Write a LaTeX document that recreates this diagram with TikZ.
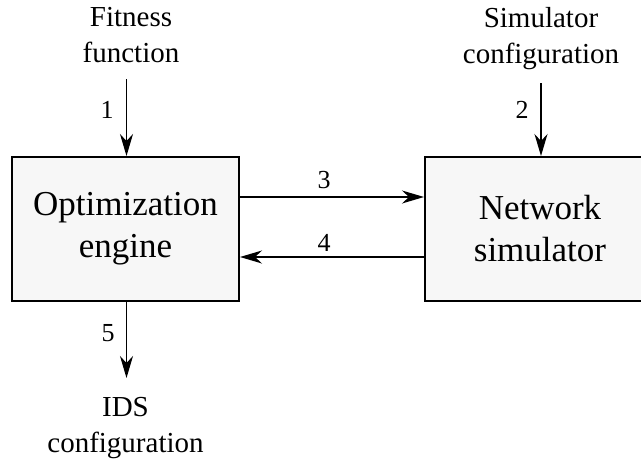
\documentclass[tikz,border=0pt]{standalone}
\usepackage{fontspec}
\setmainfont{Liberation Serif}
\usetikzlibrary{arrows.meta}
\definecolor{boxgray}{HTML}{F7F7F7}
\begin{document}
\begin{tikzpicture}[x=1pt,y=-1pt,
  box/.style={draw, line width=2pt, fill=boxgray, minimum height=144pt, inner sep=0pt, align=center, font=\fontsize{35}{42}\selectfont},
  lbl/.style={align=center, font=\fontsize{29}{36}\selectfont, inner sep=0pt, anchor=north},
  num/.style={font=\fontsize{26}{30}\selectfont, inner sep=0pt},
  arr/.style={-{Stealth[length=22pt,width=13pt,inset=7pt]}, line width=1.3pt}
]
\clip (0,0) rectangle (641,459);
\node[box, minimum width=227pt] (opt) at (125.5,229) {Optimization\\engine};
\node[box, minimum width=230pt] (ns) at (540,229) {Network\\simulator};
\node[lbl] (fit) at (131,7) {Fitness\\function};
\node[lbl] (simcfg) at (541,7) {Simulator\\configuration};
\node[lbl] (ids) at (125.5,397) {IDS\\configuration};
\coordinate (a1) at (126.5,79);
\coordinate (a2) at (541,83);
\coordinate (a5) at (126.5,378);
\draw[arr] (a1) -- (a1 |- opt.north);
\draw[arr] (a2) -- (a2 |- ns.north);
\draw[arr] (opt.east |- 0,197) -- (ns.west |- 0,197);
\draw[arr] (ns.west |- 0,257) -- (opt.east |- 0,257);
\draw[arr] (a5 |- opt.south) -- (a5);
\node[num] (n1) at (107,110) {1};
\node[num] (n2) at (522,110) {2};
\node[num] (n3) at (324,180) {3};
\node[num] (n4) at (324,243) {4};
\node[num] (n5) at (108,333) {5};
\end{tikzpicture}
\end{document}
